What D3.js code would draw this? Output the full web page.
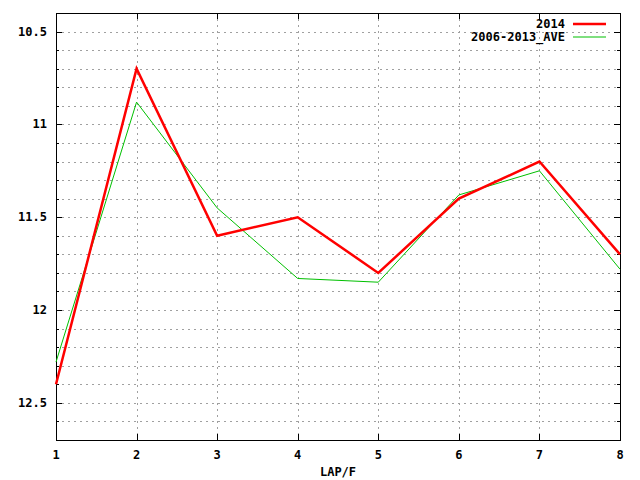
<!DOCTYPE html>
<html><head><meta charset="utf-8">
<script src="https://cdn.jsdelivr.net/npm/d3@7"></script>
<style>body{margin:0;background:#fff}svg{display:block}text{font-family:"DejaVu Sans Mono",monospace;font-weight:bold;font-size:12px}</style>
</head><body>
<script>
const laps = [1,2,3,4,5,6,7,8];
const series2014 = [12.4,10.7,11.6,11.5,11.8,11.4,11.2,11.7];
const seriesAve = [12.28,10.88,11.45,11.83,11.85,11.38,11.25,11.78];
const yMajorTicks = [10.5,11,11.5,12,12.5];
const yMinorTicks = [10.4,10.5,10.6,10.7,10.8,10.9,11,11.1,11.2,11.3,11.4,11.5,11.6,11.7,11.8,11.9,12,12.1,12.2,12.3,12.4,12.5,12.6,12.7];
const seriesNames = ["2014","2006-2013_AVE"];
const colors = ["#ff0000","#00c000"];

const W=640,H=480, L=56, R=620, T=13, B=440;
const svg=d3.select("body").append("svg").attr("width",W).attr("height",H);
const x=d3.scaleLinear().domain([1,8]).range([L,R]);
const y=d3.scaleLinear().domain([10.4,12.7]).range([T,B]);

// grid
const g=svg.append("g").attr("stroke","#a0a0a0").attr("stroke-dasharray","2,4").attr("stroke-width",1).attr("shape-rendering","crispEdges");
yMinorTicks.filter(v=>v>10.4&&v<12.7).forEach(v=>{
  const yy=Math.round(y(v))+0.5;
  g.append("line").attr("x1",L).attr("x2",R).attr("y1",yy).attr("y2",yy);
});
laps.filter(v=>v>1&&v<8).forEach(v=>{
  const xx=Math.round(x(v))+0.5;
  g.append("line").attr("x1",xx).attr("x2",xx).attr("y1",T).attr("y2",B);
});

// tick marks
const tk=svg.append("g").attr("stroke","#000").attr("stroke-width",1).attr("shape-rendering","crispEdges");
yMinorTicks.forEach(v=>{
  const yy=Math.round(y(v))+0.5;
  const major=yMajorTicks.some(m=>Math.abs(m-v)<1e-9);
  const len=major?6:3;
  tk.append("line").attr("x1",L).attr("x2",L+len).attr("y1",yy).attr("y2",yy);
  tk.append("line").attr("x1",R-len).attr("x2",R).attr("y1",yy).attr("y2",yy);
});
laps.forEach(v=>{
  const xx=Math.round(x(v))+0.5;
  tk.append("line").attr("x1",xx).attr("x2",xx).attr("y1",B).attr("y2",B-6);
  tk.append("line").attr("x1",xx).attr("x2",xx).attr("y1",T).attr("y2",T+6);
});

// border
svg.append("rect").attr("x",L+0.5).attr("y",T+0.5).attr("width",R-L).attr("height",B-T)
  .attr("fill","none").attr("stroke","#000").attr("stroke-width",1).attr("shape-rendering","crispEdges");

// labels
yMajorTicks.forEach(v=>{
  svg.append("text").attr("x",47).attr("y",y(v)+4).attr("text-anchor","end").text(d3.format("")(v));
});
laps.forEach(v=>{
  svg.append("text").attr("x",x(v)).attr("y",459).attr("text-anchor","middle").text(v);
});
svg.append("text").attr("x",338).attr("y",476).attr("text-anchor","middle").text("LAP/F");

// lines
const line=d3.line().x((d,i)=>x(laps[i])).y(d=>y(d));
svg.append("path").datum(seriesAve).attr("d",line).attr("fill","none").attr("stroke",colors[1]).attr("stroke-width",1);
svg.append("path").datum(series2014).attr("d",line).attr("fill","none").attr("stroke",colors[0]).attr("stroke-width",2.5).attr("stroke-linejoin","miter");

// legend
seriesNames.forEach((n,i)=>{
  const yy=24+i*13;
  svg.append("text").attr("x",565).attr("y",yy+4).attr("text-anchor","end").text(n);
  svg.append("line").attr("x1",573).attr("x2",606).attr("y1",yy).attr("y2",yy)
    .attr("stroke",colors[i]).attr("stroke-width",i===0?2.5:1);
});
</script>
</body></html>
